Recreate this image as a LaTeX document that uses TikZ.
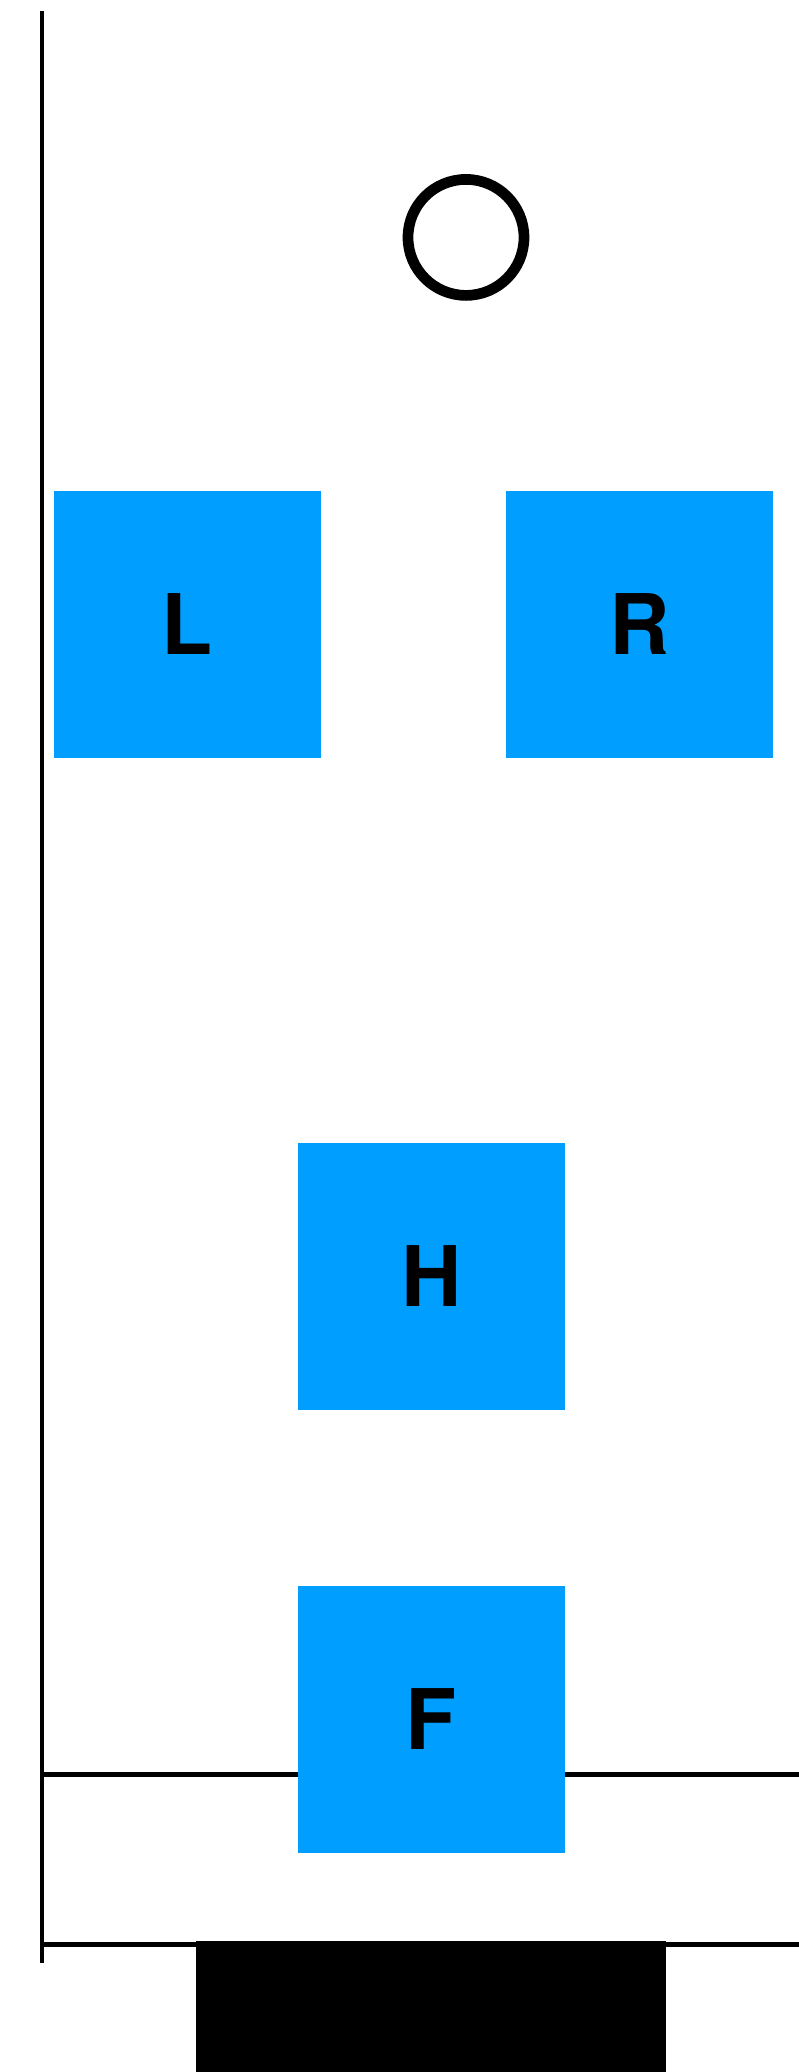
\documentclass[tikz,border=0pt]{standalone}
\usepackage{fontspec}
\setmainfont{TeX Gyre Heros}
\definecolor{boxblue}{RGB}{0,159,255}
\begin{document}
\begin{tikzpicture}[x=1pt,y=-1pt,
  blk/.style={fill=boxblue,draw=none,minimum width=267pt,minimum height=267pt,inner sep=0pt,
    font=\fontsize{83.6}{90}\selectfont\bfseries},
  rule/.style={line width=5pt,black}]
\useasboundingbox (0,0) rectangle (799,2072);
% lines
\draw[line width=4.5pt] (41.8,11.3) -- (41.8,1962.7);
\draw[rule] (41.8,1774) -- (799,1774);
\draw[rule] (41.8,1944) -- (799,1944);
\fill[black] (196,1941) rectangle (666,2072);
% circle
\node[circle,draw,line width=10.7pt,minimum size=116pt,inner sep=0pt] (c) at (466,237.4) {};
% boxes
\node[blk] (L) at (187.5,624.5) {L};
\node[blk] (R) at (639.5,624.5) {R};
\node[blk] (H) at (431.5,1276.5) {H};
\node[blk] (F) at (431.5,1719.5) {F};
\end{tikzpicture}
\end{document}
